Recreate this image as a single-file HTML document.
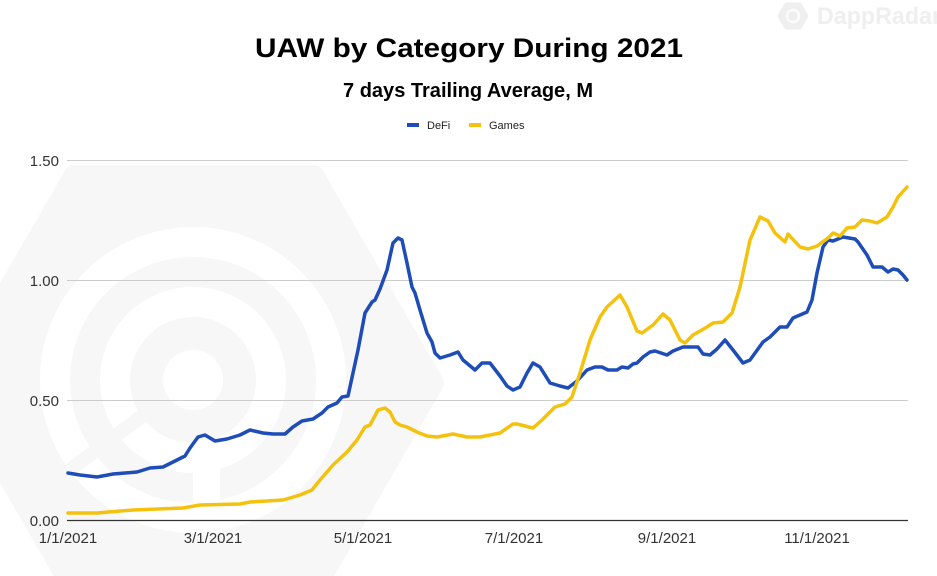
<!DOCTYPE html>
<html>
<head>
<meta charset="utf-8">
<style>
html,body{margin:0;padding:0;background:#fff;}
svg{display:block;}
text{font-family:"Liberation Sans",Arial,sans-serif;}
</style>
</head>
<body>
<svg width="937" height="576" viewBox="0 0 937 576" xmlns="http://www.w3.org/2000/svg">
  <rect width="937" height="576" fill="#ffffff"/>
  <!-- big watermark hexagon -->
  <polygon points="74,175 314,175 434,383 314,591 74,591 -46,383" fill="#f7f7f7" stroke="#f7f7f7" stroke-width="20" stroke-linejoin="round"/>
  <g fill="none" stroke="#ffffff">
    <circle cx="193" cy="380" r="138" stroke-width="30"/>
    <circle cx="193" cy="380" r="78" stroke-width="30"/>
    <circle cx="193" cy="380" r="30" fill="#ffffff" stroke="none"/>
  </g>
  <rect x="193" y="440" width="27" height="95" fill="#ffffff"/>
  <line x1="150" y1="410" x2="70" y2="470" stroke="#f7f7f7" stroke-width="14"/>
  <!-- top-right watermark -->
  <polygon points="786,4 800,4 807,16 800,28 786,28 779,16" fill="#efefef" stroke="#efefef" stroke-width="3" stroke-linejoin="round"/>
  <circle cx="793" cy="16" r="6" fill="none" stroke="#fbfbfb" stroke-width="2.5"/>
  <text x="817" y="24" font-size="24" font-weight="bold" fill="#efefef" textLength="124" lengthAdjust="spacingAndGlyphs">DappRadar</text>

  <!-- titles -->
  <text x="255" y="57" font-size="27" font-weight="bold" fill="#000" textLength="428" lengthAdjust="spacingAndGlyphs">UAW by Category During 2021</text>
  <text x="343" y="97" font-size="20" font-weight="bold" fill="#000" textLength="250" lengthAdjust="spacingAndGlyphs">7 days Trailing Average, M</text>

  <!-- legend -->
  <rect x="407" y="123" width="12" height="4" fill="#1e4db7"/>
  <text x="427" y="129" font-size="11" fill="#222">DeFi</text>
  <rect x="469" y="123" width="12" height="4" fill="#f4c20d"/>
  <text x="489" y="129" font-size="11" fill="#222">Games</text>

  <!-- gridlines -->
  <g stroke="#cccccc" stroke-width="1">
    <line x1="67" y1="160.5" x2="908" y2="160.5"/>
    <line x1="67" y1="280.5" x2="908" y2="280.5"/>
    <line x1="67" y1="400.5" x2="908" y2="400.5"/>
  </g>
  <line x1="67" y1="520.5" x2="908" y2="520.5" stroke="#333333" stroke-width="1.2"/>

  <!-- y labels -->
  <g font-size="15" fill="#333" text-anchor="end">
    <text x="59" y="166">1.50</text>
    <text x="59" y="286">1.00</text>
    <text x="59" y="406">0.50</text>
    <text x="59" y="526">0.00</text>
  </g>
  <!-- x labels -->
  <g font-size="15" fill="#333" text-anchor="middle">
    <text x="68" y="543">1/1/2021</text>
    <text x="213" y="543">3/1/2021</text>
    <text x="363" y="543">5/1/2021</text>
    <text x="514" y="543">7/1/2021</text>
    <text x="667" y="543">9/1/2021</text>
    <text x="817" y="543">11/1/2021</text>
  </g>

  <!-- DeFi -->
  <polyline fill="none" stroke="#1e4db7" stroke-width="3.5" stroke-linejoin="round" stroke-linecap="round"
    points="68,473 80,475 97,477 113,474 137,472 150,468 163,467 173,462 185,456 190,448 198,437 205,435 215,441 227,439 240,435 250,430 263,433 273,434 285,434 293,427 302,421 313,419 322,413 328,407 337,403 342,397 348,396 353,373 358,350 365,313 372,302 375,300 380,289 387,270 393,243 398,238 402,240 407,263 412,287 415,293 420,310 427,333 432,342 435,353 440,358 450,355 458,352 463,360 475,370 482,363 490,363 500,376 507,386 513,390 520,387 527,373 533,363 540,367 550,383 560,386 568,388 577,381 587,370 595,367 602,367 608,370 617,370 622,367 628,368 633,364 637,363 643,357 650,352 655,351 667,355 673,351 683,347 690,347 698,347 703,354 710,355 717,349 725,340 733,350 743,363 750,360 763,342 770,337 780,327 787,327 793,318 800,315 807,312 812,300 817,273 823,247 828,240 833,241 843,237 855,239 858,242 867,255 873,267 882,267 888,272 893,269 898,270 903,275 907,280"/>
  <!-- Games -->
  <polyline fill="none" stroke="#f4c20d" stroke-width="3.5" stroke-linejoin="round" stroke-linecap="round"
    points="68,513 97,513 133,510 183,508 200,505 240,504 250,502 283,500 300,495 312,490 320,480 333,465 347,452 357,440 365,427 370,425 378,410 385,408 390,412 395,422 400,425 407,427 417,432 427,436 437,437 453,434 467,437 480,437 500,433 513,424 517,424 533,428 542,420 555,407 565,404 572,397 580,373 590,340 600,317 607,307 620,295 627,307 637,331 642,333 653,325 663,314 670,320 680,340 685,343 693,335 707,327 713,323 723,322 732,313 740,287 750,240 760,217 768,221 775,233 785,242 788,234 800,247 808,249 817,246 828,238 833,233 840,236 847,228 855,227 862,220 870,221 877,223 887,217 893,207 898,197 907,187"/>
</svg>
</body>
</html>
